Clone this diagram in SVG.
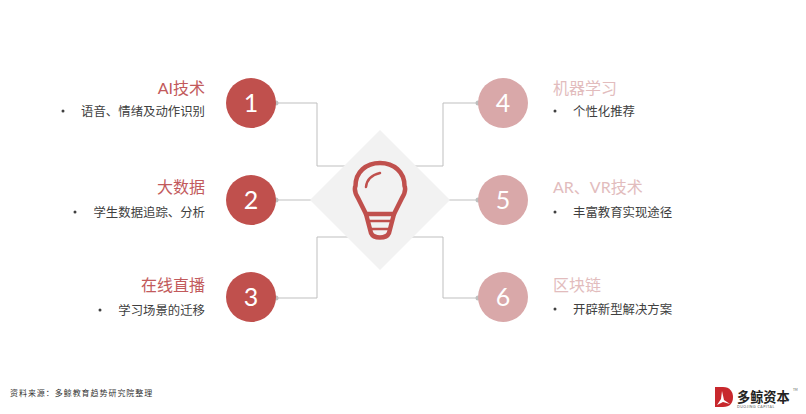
<svg xmlns="http://www.w3.org/2000/svg" width="806" height="414" viewBox="0 0 806 414">
<style>
text{font-family:Lato,"Noto Sans CJK SC",sans-serif}
.c1{fill:#c0504d}.c2{fill:#d9a8a9}
.num{font-size:25px;fill:#fff;text-anchor:middle}
.t{font-size:16px}.tl{fill:#c25a5c;text-anchor:end}.tr{fill:#e2bcbd}
.s{font-size:12.4px;fill:#404040}.e{text-anchor:end}
.line{fill:none;stroke:#bfbfbf;stroke-width:1}
.dot{fill:#bfbfbf}
.bulb{fill:none;stroke:#c0504d;stroke-linecap:round;stroke-linejoin:round}
</style>
<rect width="806" height="414" fill="#fff"/>
<g id="connectors">
<path class="line" d="M276 103H317V166H360"/>
<path class="line" d="M276 200H330"/>
<path class="line" d="M276 298H317V237H360"/>
<path class="line" d="M478 103H443V166H410"/>
<path class="line" d="M478 200H440"/>
<path class="line" d="M478 298H443V237H410"/>
<circle class="dot" cx="276" cy="103" r="2.5"/><circle class="dot" cx="276" cy="200" r="2.5"/><circle class="dot" cx="276" cy="298" r="2.5"/>
<circle class="dot" cx="478" cy="103" r="2.5"/><circle class="dot" cx="478" cy="200" r="2.5"/><circle class="dot" cx="478" cy="298" r="2.5"/>
</g>
<g id="center">
<polygon points="380,130 450,200 380,270 310,200" fill="#f2f2f2"/>
<path class="bulb" stroke-width="4.5" d="M366 214L358 198C353 190 355.500 186 355.500 186C355.500 172 366 163 380 163C394 163 404.500 172 404.500 186C404.500 186 407 190 402 198L394 214Z"/>
<path class="bulb" stroke-width="4.500" d="M366 214L371 233Q373 237.500 380 237.500Q387 237.500 389 233L394 214"/>
<path class="bulb" stroke-width="2.500" d="M366 187Q367 176 380 173"/>
<path class="bulb" stroke-width="2.500" d="M369 221H391M371 229H389"/>
</g>
<g id="node1"><circle class="c1" cx="251" cy="103" r="25"/><text class="num" x="251" y="112">1</text><text class="t tl" x="205" y="94">AI技术</text><circle cx="63" cy="111" r="1.500" fill="#404040"/><text class="s e" x="205" y="116">语音、情绪及动作识别</text></g>
<g id="node2"><circle class="c1" cx="251" cy="200" r="25"/><text class="num" x="251" y="209">2</text><text class="t tl" x="205" y="193">大数据</text><circle cx="75" cy="212" r="1.500" fill="#404040"/><text class="s e" x="205" y="217">学生数据追踪、分析</text></g>
<g id="node3"><circle class="c1" cx="251" cy="297" r="25"/><text class="num" x="251" y="306">3</text><text class="t tl" x="205" y="291">在线直播</text><circle cx="100" cy="310" r="1.500" fill="#404040"/><text class="s e" x="205" y="315">学习场景的迁移</text></g>
<g id="node4"><circle class="c2" cx="503" cy="103" r="25"/><text class="num" x="503" y="112">4</text><text class="t tr" x="553" y="94">机器学习</text><circle cx="555" cy="111" r="1.500" fill="#404040"/><text class="s" x="573" y="116">个性化推荐</text></g>
<g id="node5"><circle class="c2" cx="503" cy="200" r="25"/><text class="num" x="503" y="209">5</text><text class="t tr" x="553" y="193">AR、VR技术</text><circle cx="555" cy="212" r="1.500" fill="#404040"/><text class="s" x="573" y="217">丰富教育实现途径</text></g>
<g id="node6"><circle class="c2" cx="503" cy="297" r="25"/><text class="num" x="503" y="306">6</text><text class="t tr" x="553" y="291">区块链</text><circle cx="555" cy="309" r="1.500" fill="#404040"/><text class="s" x="573" y="314">开辟新型解决方案</text></g>
<text x="10" y="396" font-size="8" fill="#333" letter-spacing="0.95">资料来源：多鲸教育趋势研究院整理</text>
<g id="logo">
<path d="M715 387H723C730 387 733 392 733 397C733 403 730 407 723 407H715Z" fill="#c8282d"/>
<path d="M722 391L724 400L730 404L723 402L717 405L721 399Z" fill="#fff"/>
<text x="737" y="402" font-size="13.200" font-weight="700" fill="#222">多鲸资本</text>
<text x="737" y="408" font-size="3.500" fill="#555" letter-spacing=".5">DUOJING CAPITAL</text>
<text x="793" y="391" font-size="3" fill="#555">TM</text>
</g>
</svg>
